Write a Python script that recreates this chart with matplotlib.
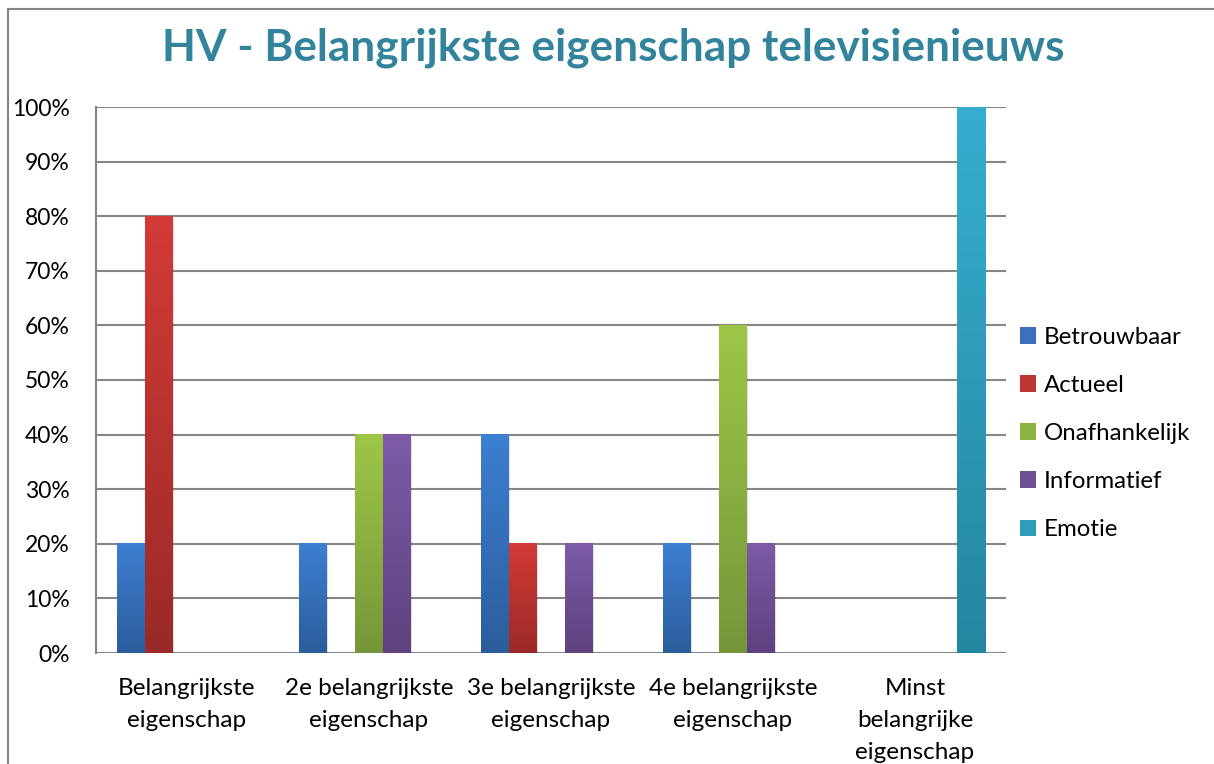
import matplotlib
matplotlib.use("Agg")
import matplotlib.pyplot as plt
import numpy as np
from matplotlib.patches import Patch
from matplotlib.colors import LinearSegmentedColormap
from matplotlib.lines import Line2D

categories = ["Belangrijkste\neigenschap", "2e belangrijkste\neigenschap",
              "3e belangrijkste\neigenschap", "4e belangrijkste\neigenschap",
              "Minst\nbelangrijke\neigenschap"]
series_names = ["Betrouwbaar", "Actueel", "Onafhankelijk", "Informatief", "Emotie"]
betrouwbaar = [0.20, 0.20, 0.40, 0.20, 0.0]
actueel = [0.80, 0.0, 0.20, 0.0, 0.0]
onafhankelijk = [0.0, 0.40, 0.0, 0.60, 0.0]
informatief = [0.0, 0.40, 0.20, 0.20, 0.0]
emotie = [0.0, 0.0, 0.0, 0.0, 1.00]
series_values = [betrouwbaar, actueel, onafhankelijk, informatief, emotie]
yticks = [0, 0.1, 0.2, 0.3, 0.4, 0.5, 0.6, 0.7, 0.8, 0.9, 1.0]
ytick_labels = ["0%", "10%", "20%", "30%", "40%", "50%", "60%", "70%", "80%", "90%", "100%"]
title = "HV - Belangrijkste eigenschap televisienieuws"

top_colors = ["#3D7FD2", "#D33B37", "#9EC646", "#7D5BA8", "#36AED0"]
bot_colors = ["#2B5D9C", "#9A2A27", "#76963A", "#5E427E", "#25869F"]
mid_colors = ["#3A70BC", "#BF3633", "#8DB343", "#6E4F94", "#2F9DBB"]

font = "Lato"
plt.rcParams['font.family'] = [font, 'DejaVu Sans']

W, H = 1214, 764
fig = plt.figure(figsize=(W / 100, H / 100), dpi=100)
fig.patch.set_facecolor("white")

# outer chart border (left and top)
fig.add_artist(Line2D([8 / W, 8 / W], [0, 1 - 9 / H], color="#868686", lw=1.5, transform=fig.transFigure))
fig.add_artist(Line2D([8 / W, 1], [1 - 9 / H, 1 - 9 / H], color="#868686", lw=1.5, transform=fig.transFigure))

ax = fig.add_axes([96 / W, 1 - 653 / H, (1006 - 96) / W, (653 - 107) / H])
n_cat = len(categories)
n_ser = len(series_names)
gap = 1.5
bw = 1.0 / (n_ser + gap)
x = np.arange(n_cat)

grad = np.linspace(1, 0, 256).reshape(-1, 1)
for i, (name, vals) in enumerate(zip(series_names, series_values)):
    offs = (i - (n_ser - 1) / 2) * bw
    bars = ax.bar(x + offs, vals, width=bw, color=mid_colors[i], zorder=3, linewidth=0)
    cmap = LinearSegmentedColormap.from_list(name, [bot_colors[i], top_colors[i]])
    for b in bars:
        h = b.get_height()
        if h <= 0:
            continue
        x0 = b.get_x()
        w = b.get_width()
        # subtle shadow
        ax.bar(x0 + w / 2 + 0.006, h, width=w, bottom=-0.004, color="#000000", alpha=0.12, zorder=2.5, linewidth=0)
        ax.imshow(grad, extent=[x0, x0 + w, 0, h], cmap=cmap, aspect="auto", zorder=4, interpolation="bilinear")

ax.set_xlim(-0.5, n_cat - 0.5)
ax.set_ylim(0, 1.0)

ax.set_yticks(yticks)
ax.set_yticklabels(ytick_labels, fontsize=16.5)
ax.set_xticks(x)
ax.set_xticklabels(categories, fontsize=17.5, linespacing=1.64)
ax.tick_params(axis="both", length=0, colors="black")
ax.tick_params(axis="y", pad=19)
ax.tick_params(axis="x", pad=18)
ax.yaxis.grid(True, color="#868686", lw=1.5, zorder=1)
for sp in ["top", "right", "bottom"]:
    ax.spines[sp].set_visible(False)
ax.spines["left"].set_color("#868686")
ax.spines["left"].set_linewidth(1.5)
ax.set_facecolor("none")

fig.text(613 / W, 1 - 48 / H, title, ha="center", va="center", fontsize=31.8,
         fontweight="bold", color="#31849B")

handles = [Patch(facecolor=mid_colors[i], edgecolor="none") for i in range(n_ser)]
fig.legend(handles, series_names, loc="center left", bbox_to_anchor=(1020 / W, 1 - 433.5 / H),
           frameon=False, fontsize=17.3, handlelength=0.68, handleheight=0.68,
           handletextpad=0.3, labelspacing=1.13, borderaxespad=0, borderpad=0)

fig.savefig("out.png", dpi=100, facecolor="white")
